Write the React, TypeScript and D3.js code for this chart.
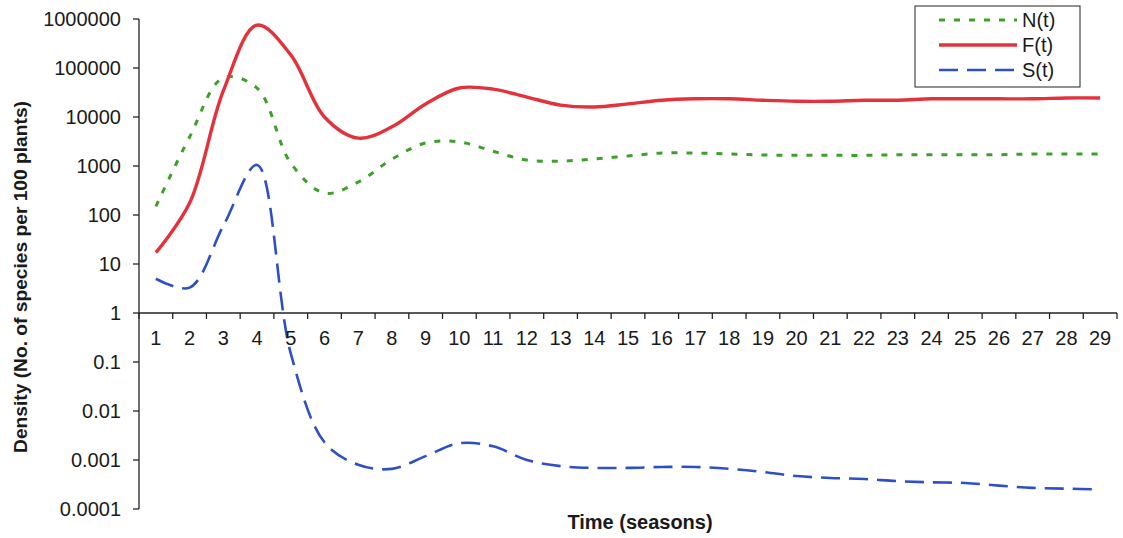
import React from "react";
import * as d3 from "d3";

// Seasons on the x axis
const seasons: string[] = Array.from({ length: 29 }, (_, i) => String(i + 1));

// Densities (No. of species per 100 plants) per season
const nSeries: number[] = [150, 3900, 63000, 39000, 1150, 280, 470, 1380, 2950, 3100, 2000, 1320, 1260, 1390, 1600, 1840, 1840, 1760, 1680, 1650, 1650, 1650, 1700, 1700, 1700, 1700, 1760, 1760, 1760];
const fSeries: number[] = [17, 175, 34000, 750000, 185000, 10000, 3700, 6300, 18500, 39000, 37000, 25500, 17500, 16000, 18500, 22000, 23500, 23500, 22000, 21000, 21000, 22000, 22000, 23500, 23500, 23500, 23500, 24500, 24500];
const sSeries: number[] = [5, 3.3, 60, 1050, 0.15, 0.0023, 0.0008, 0.00066, 0.0012, 0.0022, 0.0019, 0.001, 0.00075, 0.00069, 0.00069, 0.00072, 0.00072, 0.00066, 0.00057, 0.00047, 0.00043, 0.00041, 0.00037, 0.00035, 0.00034, 0.0003, 0.00027, 0.00026, 0.00025];

// Log-scale y ticks and their labels
const yTickValues: number[] = [0.0001, 0.001, 0.01, 0.1, 1, 10, 100, 1000, 10000, 100000, 1000000];
const yTickLabels: string[] = ["0.0001", "0.001", "0.01", "0.1", "1", "10", "100", "1000", "10000", "100000", "1000000"];

const seriesNames: string[] = ["N(t)", "F(t)", "S(t)"];

const W = 1123;
const H = 538;
const FONT = "Arial, 'Liberation Sans', Helvetica, sans-serif";

const styles = [
  { color: "#3f9f2c", width: 3, dash: "6,9" },
  { color: "#e4323c", width: 3.4, dash: "" },
  { color: "#2f4fc4", width: 2.6, dash: "19,9" },
];

export default function App() {
  const x = d3.scaleBand<string>().domain(seasons).range([139, 1117]).padding(0);
  const y = d3.scaleLog().domain([0.0001, 1000000]).range([509, 19]);
  const cx = (s: string) => (x(s) as number) + x.bandwidth() / 2;
  const axisY = y(1);

  const line = d3
    .line<number>()
    .x((_, i) => cx(seasons[i]))
    .y((v) => y(v))
    .curve(d3.curveCatmullRom.alpha(0.5));

  const all = [nSeries, fSeries, sSeries];
  const boundaries = d3.range(seasons.length + 1).map((i) => x.range()[0] + i * x.step());

  return (
    <svg width={W} height={H} style={{ position: "absolute", left: 0, top: 0, background: "#fff" }} fontFamily={FONT}>
      <rect x={0} y={0} width={W} height={H} fill="#fff" />

      {/* series */}
      {all.map((data, k) => (
        <path
          key={k}
          d={line(data) || ""}
          fill="none"
          stroke={styles[k].color}
          strokeWidth={styles[k].width}
          strokeDasharray={styles[k].dash || undefined}
          strokeLinejoin="round"
        />
      ))}

      {/* y axis */}
      <line x1={139} x2={139} y1={y(1000000)} y2={y(0.0001)} stroke="#222" strokeWidth={1.3} />
      {yTickValues.map((v, i) => (
        <g key={v}>
          <line x1={133} x2={139} y1={y(v)} y2={y(v)} stroke="#222" strokeWidth={1.3} />
          <text x={121} y={y(v) + 7} textAnchor="end" fontSize={20} fill="#1a1a1a">
            {yTickLabels[i]}
          </text>
        </g>
      ))}

      {/* x axis crossing at 1 */}
      <line x1={139} x2={1117} y1={axisY} y2={axisY} stroke="#222" strokeWidth={1.3} />
      {boundaries.map((bx, i) => (
        <line key={i} x1={bx} x2={bx} y1={axisY} y2={axisY + 6} stroke="#222" strokeWidth={1.3} />
      ))}
      {seasons.map((s) => (
        <text key={s} x={cx(s)} y={axisY + 32} textAnchor="middle" fontSize={20} fill="#1a1a1a">
          {s}
        </text>
      ))}

      {/* axis titles */}
      <text
        transform={`translate(27,${277}) rotate(-90)`}
        textAnchor="middle"
        fontSize={19.2}
        fontWeight="bold"
        fill="#1a1a1a"
      >
        Density (No. of species per 100 plants)
      </text>
      <text x={640} y={529} textAnchor="middle" fontSize={20} fontWeight="bold" fill="#1a1a1a">
        Time (seasons)
      </text>

      {/* legend */}
      <rect x={915} y={6} width={165} height={81} fill="#fff" stroke="#222" strokeWidth={1} />
      {seriesNames.map((name, k) => {
        const ly = 20 + k * 25;
        return (
          <g key={name}>
            <line
              x1={939}
              x2={1017}
              y1={ly}
              y2={ly}
              stroke={styles[k].color}
              strokeWidth={styles[k].width}
              strokeDasharray={styles[k].dash || undefined}
            />
            <text x={1022} y={ly + 7} fontSize={20} fill="#1a1a1a">
              {name}
            </text>
          </g>
        );
      })}
    </svg>
  );
}
